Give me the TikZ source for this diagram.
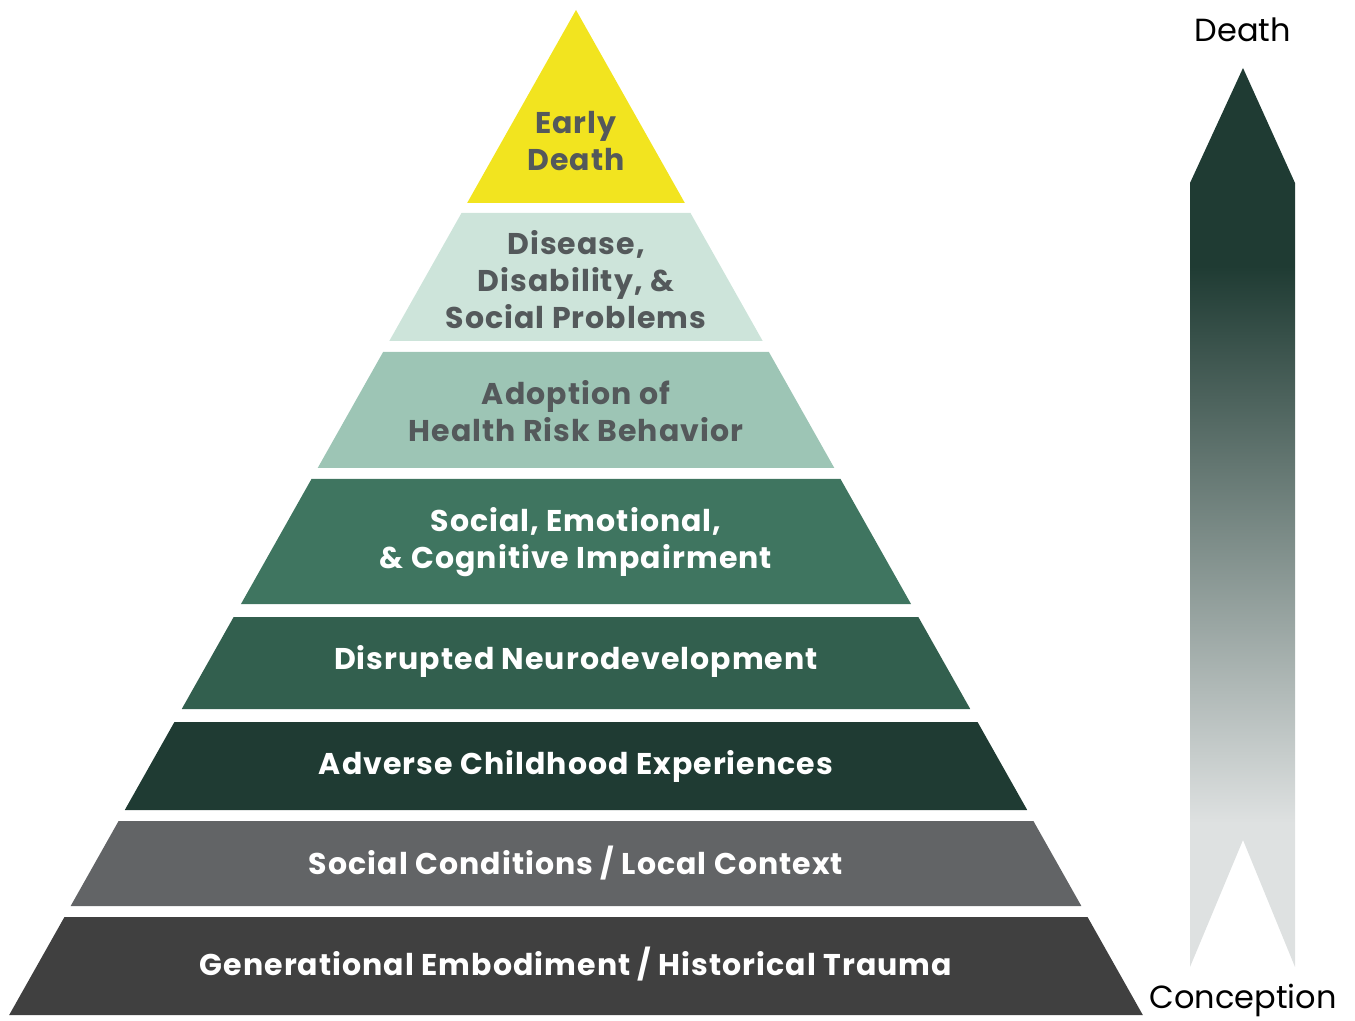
\documentclass[tikz,border=0pt]{standalone}
\usepackage{fontspec}
\setmainfont{Poppins}
\newfontfamily\tierfont[LetterSpace=3.5]{Poppins}
\usetikzlibrary{positioning,calc}

\definecolor{tierA}{RGB}{242,228,31}
\definecolor{tierB}{RGB}{205,228,218}
\definecolor{tierC}{RGB}{157,197,181}
\definecolor{tierD}{RGB}{63,117,96}
\definecolor{tierE}{RGB}{50,95,78}
\definecolor{tierF}{RGB}{31,59,51}
\definecolor{tierG}{RGB}{98,100,102}
\definecolor{tierH}{RGB}{64,64,64}
\definecolor{labelgray}{RGB}{84,89,91}
\definecolor{arrowdark}{RGB}{31,59,51}
\definecolor{arrowlight}{RGB}{222,225,225}

\pgfdeclareverticalshading{lifecourse}{100bp}{color(0bp)=(arrowlight); color(33bp)=(arrowlight); color(64bp)=(arrowdark); color(100bp)=(arrowdark)}

\begin{document}
\begin{tikzpicture}[x=0.5pt, y=-0.5pt,
    tier/.style={font=\tierfont\bfseries\fontsize{15}{18.5}\selectfont, align=center},
    darktier/.style={tier, text=labelgray},
    lighttier/.style={tier, text=white},
    endlabel/.style={font=\fontsize{16}{18}\selectfont, text=black}]
    \useasboundingbox (0,0) rectangle (1355,1021);

    % Draw the Pyramid
    \foreach \t/\b/\c in {10/203/tierA, 213/341/tierB, 352/468/tierC, 479/604/tierD,
                          617/709/tierE, 722/810/tierF, 821/906/tierG, 917/1015/tierH}{
        \pgfmathsetmacro\wt{0.564*(\t-10)}
        \pgfmathsetmacro\wb{0.564*(\b-10)}
        \fill[\c] (576-\wt,\t) -- (576+\wt,\t) -- (576+\wb,\b) -- (576-\wb,\b) -- cycle;
    }

    % Labels
    \node[darktier] (early) at (576,141) {Early\\Death};
    \node[darktier] (disease) at (576,280) {Disease,\\Disability, \&\\Social Problems};
    \node[darktier] (risk) at (576,411) {Adoption of\\Health Risk Behavior};
    \node[lighttier] (impair) at (576,542) {Social, Emotional,\\\& Cognitive Impairment};
    \node[lighttier] (neuro) at (576,661) {Disrupted Neurodevelopment};
    \node[lighttier] (aces) at (576,766) {Adverse Childhood Experiences};
    \node[lighttier] (context) at (576,863) {Social Conditions / Local Context};
    \node[lighttier] (trauma) at (576,964) {Generational Embodiment / Historical Trauma};

    % Life course arrow
    \shade[shading=lifecourse] (1243,68) -- (1295,183) -- (1295,967) -- (1243,840)
        -- (1190,967) -- (1190,183) -- cycle;
    \node[endlabel] (death) at (1243,30) {Death};
    \node[endlabel] (conception) at (1243,1000) {Conception};
\end{tikzpicture}
\end{document}
